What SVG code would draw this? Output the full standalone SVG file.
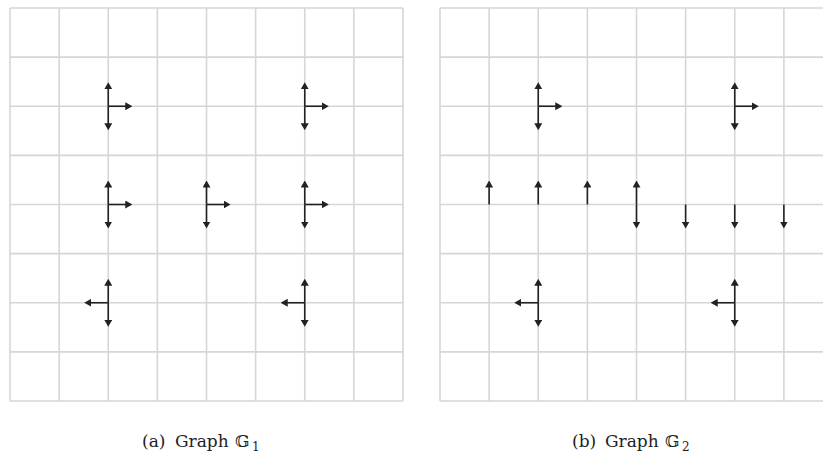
<svg xmlns="http://www.w3.org/2000/svg" width="823" height="457" viewBox="0 0 823 457">
  <style>
    .arr { stroke: #222; stroke-width: 1.6; fill: none; marker-end: url(#ah); }
    .cap { font-family: "DejaVu Serif", "Liberation Serif", serif; font-size: 17px; fill: #222; }
    .sub { font-family: "DejaVu Serif", "Liberation Serif", serif; font-size: 12px; fill: #222; }
  </style>
  <defs>
    <marker id="ah" viewBox="0 0 7 8" refX="4" refY="4" markerWidth="7" markerHeight="8" markerUnits="userSpaceOnUse" orient="auto">
      <path d="M0,0 L7,4 L0,8 z" fill="#222"/>
    </marker>
    <g id="grid" stroke="#d6d6d6" stroke-width="1.6" fill="none">
      <line x1="0" y1="0" x2="0" y2="393"/>
      <line x1="49.125" y1="0" x2="49.125" y2="393"/>
      <line x1="98.25" y1="0" x2="98.25" y2="393"/>
      <line x1="147.375" y1="0" x2="147.375" y2="393"/>
      <line x1="196.5" y1="0" x2="196.5" y2="393"/>
      <line x1="245.625" y1="0" x2="245.625" y2="393"/>
      <line x1="294.75" y1="0" x2="294.75" y2="393"/>
      <line x1="343.875" y1="0" x2="343.875" y2="393"/>
      <line x1="393" y1="0" x2="393" y2="393"/>
      <line x1="0" y1="0" x2="393" y2="0"/>
      <line x1="0" y1="49.125" x2="393" y2="49.125"/>
      <line x1="0" y1="98.25" x2="393" y2="98.25"/>
      <line x1="0" y1="147.375" x2="393" y2="147.375"/>
      <line x1="0" y1="196.5" x2="393" y2="196.5"/>
      <line x1="0" y1="245.625" x2="393" y2="245.625"/>
      <line x1="0" y1="294.75" x2="393" y2="294.75"/>
      <line x1="0" y1="343.875" x2="393" y2="343.875"/>
      <line x1="0" y1="393" x2="393" y2="393"/>
    </g>
  </defs>

  <rect width="823" height="457" fill="#ffffff"/>

  <g id="grid-a"><use href="#grid" x="10" y="8"/></g>
  <g id="grid-b"><use href="#grid" x="440" y="8"/></g>

  <!-- Graph G1 -->
  <g id="a-n1"><line class="arr" x1="108.25" y1="106.25" x2="108.25" y2="85.25"/><line class="arr" x1="108.25" y1="106.25" x2="108.25" y2="127.25"/><line class="arr" x1="108.25" y1="106.25" x2="129.25" y2="106.25"/></g>
  <g id="a-n2"><line class="arr" x1="304.75" y1="106.25" x2="304.75" y2="85.25"/><line class="arr" x1="304.75" y1="106.25" x2="304.75" y2="127.25"/><line class="arr" x1="304.75" y1="106.25" x2="325.75" y2="106.25"/></g>
  <g id="a-n3"><line class="arr" x1="108.25" y1="204.5" x2="108.25" y2="183.5"/><line class="arr" x1="108.25" y1="204.5" x2="108.25" y2="225.5"/><line class="arr" x1="108.25" y1="204.5" x2="129.25" y2="204.5"/></g>
  <g id="a-n4"><line class="arr" x1="206.5" y1="204.5" x2="206.5" y2="183.5"/><line class="arr" x1="206.5" y1="204.5" x2="206.5" y2="225.5"/><line class="arr" x1="206.5" y1="204.5" x2="227.5" y2="204.5"/></g>
  <g id="a-n5"><line class="arr" x1="304.75" y1="204.5" x2="304.75" y2="183.5"/><line class="arr" x1="304.75" y1="204.5" x2="304.75" y2="225.5"/><line class="arr" x1="304.75" y1="204.5" x2="325.75" y2="204.5"/></g>
  <g id="a-n6"><line class="arr" x1="108.25" y1="302.75" x2="108.25" y2="281.75"/><line class="arr" x1="108.25" y1="302.75" x2="108.25" y2="323.75"/><line class="arr" x1="108.25" y1="302.75" x2="87.25" y2="302.75"/></g>
  <g id="a-n7"><line class="arr" x1="304.75" y1="302.75" x2="304.75" y2="281.75"/><line class="arr" x1="304.75" y1="302.75" x2="304.75" y2="323.75"/><line class="arr" x1="304.75" y1="302.75" x2="283.75" y2="302.75"/></g>

  <!-- Graph G2 -->
  <g id="b-n1"><line class="arr" x1="538.25" y1="106.25" x2="538.25" y2="85.25"/><line class="arr" x1="538.25" y1="106.25" x2="538.25" y2="127.25"/><line class="arr" x1="538.25" y1="106.25" x2="559.25" y2="106.25"/></g>
  <g id="b-n2"><line class="arr" x1="734.75" y1="106.25" x2="734.75" y2="85.25"/><line class="arr" x1="734.75" y1="106.25" x2="734.75" y2="127.25"/><line class="arr" x1="734.75" y1="106.25" x2="755.75" y2="106.25"/></g>
  <g id="b-n3"><line class="arr" x1="489.125" y1="204.5" x2="489.125" y2="183.5"/></g>
  <g id="b-n4"><line class="arr" x1="538.25" y1="204.5" x2="538.25" y2="183.5"/></g>
  <g id="b-n5"><line class="arr" x1="587.375" y1="204.5" x2="587.375" y2="183.5"/></g>
  <g id="b-n6"><line class="arr" x1="636.5" y1="204.5" x2="636.5" y2="183.5"/><line class="arr" x1="636.5" y1="204.5" x2="636.5" y2="225.5"/></g>
  <g id="b-n7"><line class="arr" x1="685.625" y1="204.5" x2="685.625" y2="225.5"/></g>
  <g id="b-n8"><line class="arr" x1="734.75" y1="204.5" x2="734.75" y2="225.5"/></g>
  <g id="b-n9"><line class="arr" x1="783.875" y1="204.5" x2="783.875" y2="225.5"/></g>
  <g id="b-n10"><line class="arr" x1="538.25" y1="302.75" x2="538.25" y2="281.75"/><line class="arr" x1="538.25" y1="302.75" x2="538.25" y2="323.75"/><line class="arr" x1="538.25" y1="302.75" x2="517.25" y2="302.75"/></g>
  <g id="b-n11"><line class="arr" x1="734.75" y1="302.75" x2="734.75" y2="281.75"/><line class="arr" x1="734.75" y1="302.75" x2="734.75" y2="323.75"/><line class="arr" x1="734.75" y1="302.75" x2="713.75" y2="302.75"/></g>

  <g id="connectors"></g>

  <!-- Captions -->
  <g id="caption-a">
    <text class="cap" x="142" y="447">(a)</text>
    <text class="cap" x="175" y="447">Graph</text>
    <text class="cap" x="235" y="447">𝔾</text>
    <text class="sub" x="252" y="451">1</text>
  </g>
  <g id="caption-b">
    <text class="cap" x="572" y="447">(b)</text>
    <text class="cap" x="605" y="447">Graph</text>
    <text class="cap" x="665" y="447">𝔾</text>
    <text class="sub" x="682" y="451">2</text>
  </g>
</svg>
